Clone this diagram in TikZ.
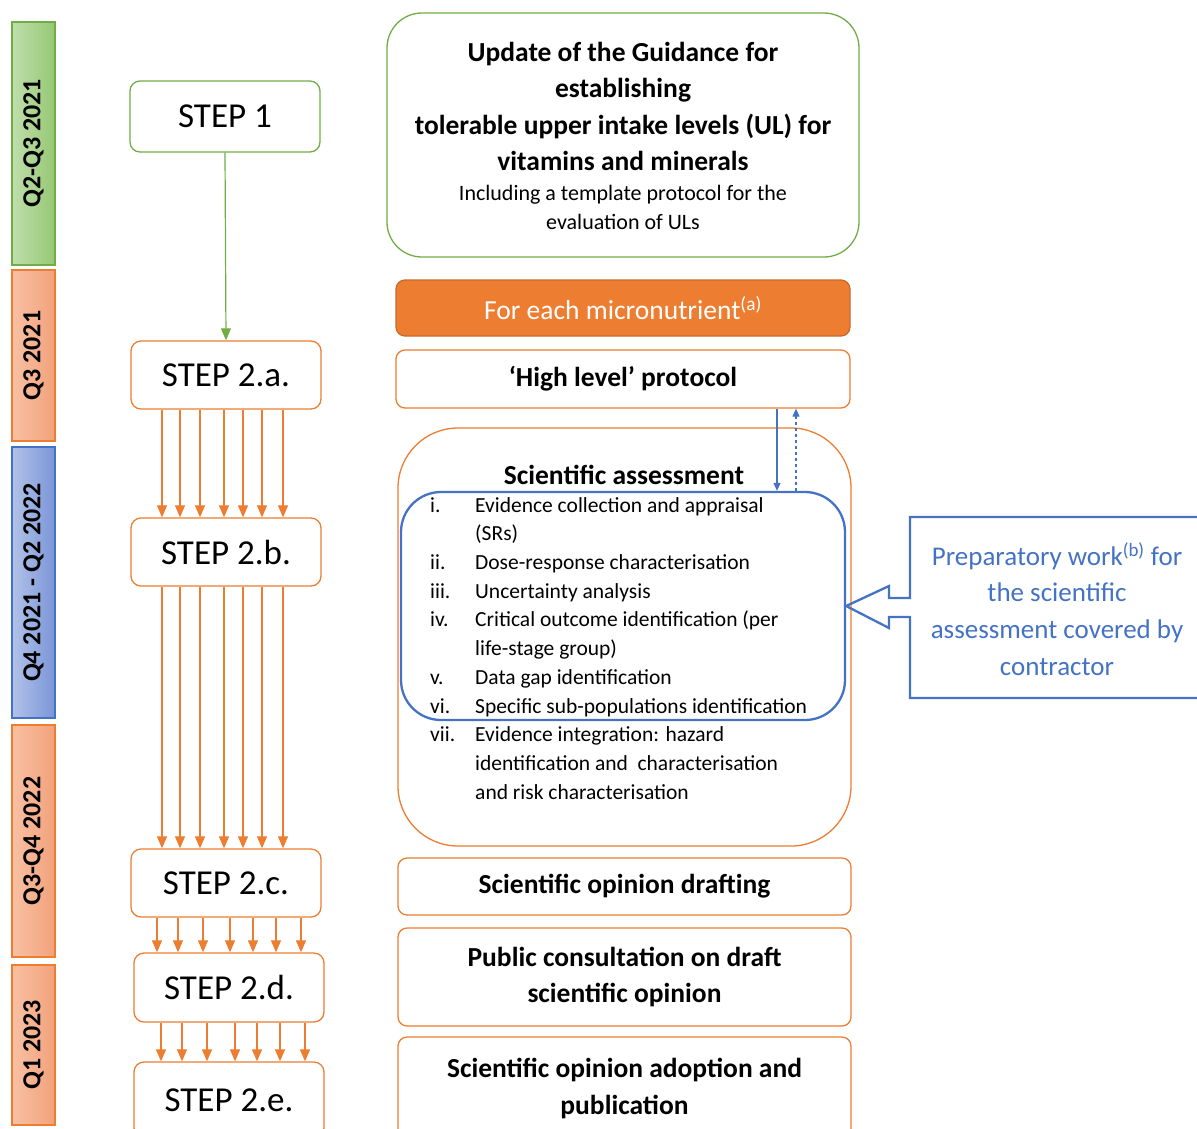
\documentclass[tikz,border=0pt]{standalone}
\usepackage{fontspec}
\usepackage{graphicx}
\setmainfont{Carlito}
\usetikzlibrary{arrows.meta}
\definecolor{eGreen}{HTML}{70AD47}
\definecolor{eOrange}{HTML}{ED7D31}
\definecolor{eBlue}{HTML}{4472C4}
\definecolor{eOrangeDark}{RGB}{200,105,45}
\newcommand{\litem}[1]{\makebox[45pt][l]{#1}}
\newcommand{\lgap}{\hspace*{45pt}}

\begin{document}
\begin{tikzpicture}[
    x=1pt, y=-1pt,
    every node/.style={align=center, inner sep=0pt},
    bar/.style={draw, line width=1.2pt, minimum width=43pt, font=\fontsize{26}{30}\selectfont\bfseries}, % quarter bars on the left
    greenbar/.style={bar, draw=eGreen, left color={rgb,255:red,192;green,222;blue,172}, right color={rgb,255:red,150;green,200;blue,116}},
    orangebar/.style={bar, draw=eOrange, left color={rgb,255:red,248;green,192;blue,164}, right color={rgb,255:red,242;green,162;blue,122}},
    bluebar/.style={bar, draw=eBlue, left color={rgb,255:red,178;green,194;blue,232}, right color={rgb,255:red,122;green,150;blue,216}},
    stepbox/.style={draw=eOrange, rounded corners=10pt, line width=1.3pt, minimum width=190pt, minimum height=68pt, font=\fontsize{35}{40}\selectfont}, % steps
    taskbox/.style={draw=eOrange, rounded corners=9pt, line width=1.3pt, minimum width=453pt, font=\fontsize{27.5}{36.5}\selectfont\bfseries}, % boxes on the right
    oarrow/.style={draw=eOrange, line width=1.2pt, -{Triangle[width=10pt,length=12pt]}},
    barrow/.style={draw=eBlue, line width=1.1pt, -{Triangle[width=7pt,length=8pt]}}
]
\useasboundingbox (0,0) rectangle (1197,1128);

% quarters
\node[greenbar, minimum height=243pt] (q1) at (33.5,143.5) {\rotatebox{90}{Q2-Q3 2021}};
\node[orangebar, minimum height=171pt] (q2) at (33.5,355.5) {\rotatebox{90}{Q3 2021}};
\node[bluebar, minimum height=271pt] (q3) at (33.5,582.5) {\rotatebox{90}{Q4 2021 - Q2 2022}};
\node[orangebar, minimum height=232pt] (q4) at (33.5,841) {\rotatebox{90}{Q3-Q4 2022}};
\node[orangebar, minimum height=160pt] (q5) at (33.5,1045) {\rotatebox{90}{Q1 2023}};

% steps
\node[stepbox, draw=eGreen, minimum height=71pt] (s1) at (225,116.5) {STEP 1};
\node[stepbox] (s2a) at (226,375) {STEP 2.a.};
\node[stepbox] (s2b) at (226,552) {STEP 2.b.};
\node[stepbox] (s2c) at (226,883) {STEP 2.c.};
\node[stepbox, minimum height=69pt] (s2d) at (229,987.5) {STEP 2.d.};
\node[stepbox, minimum height=76pt] (s2e) at (229,1100) {STEP 2.e.};

\draw[oarrow, draw=eGreen] (s1.south) -- (s2a.north);
\foreach \dx in {-64,-46,-26,-2,17,36,57}{
    \draw[oarrow] ([xshift=\dx pt]s2a.south) -- ([xshift=\dx pt]s2b.north);
    \draw[oarrow] ([xshift=\dx pt]s2b.south) -- ([xshift=\dx pt]s2c.north);
}
\foreach \dx in {-69,-48,-23,4,27,50,75}
    \draw[oarrow] ([xshift=\dx pt]s2c.south) -- ([xshift=\dx pt]s2c.south |- s2d.north);
\foreach \dx in {-68,-47,-22,6,28,51,76}
    \draw[oarrow] ([xshift=\dx pt]s2d.south) -- ([xshift=\dx pt]s2d.south |- s2e.north);

% right column
\node[draw=eGreen, rounded corners=35pt, line width=1.3pt, minimum width=472pt, minimum height=244pt] (guide) at (623,135) {};
\node[font=\fontsize{27.5}{36.5}\selectfont\bfseries] (guideT) at (623,106.5) {Update of the Guidance for\\establishing\\tolerable upper intake levels (UL) for\\vitamins and minerals};
\node[font=\fontsize{22}{29}\selectfont] (guideS) at (623,207.5) {Including a template protocol for the\\evaluation of ULs};

\node[taskbox, fill=eOrange, draw=eOrangeDark, minimum width=454pt, minimum height=56pt, text=white, font=\fontsize{27.5}{36.5}\selectfont] (each) at (623,308) {For each micronutrient\textsuperscript{(a)}};
\node[taskbox, minimum width=454pt, minimum height=58pt] (hlp) at (623,379) {`High level' protocol};

\node[taskbox, rounded corners=60pt, minimum height=418pt] (sci) at (624.5,637) {};
\node[font=\fontsize{27.5}{36.5}\selectfont\bfseries] (sciT) at (624,475) {Scientific assessment};
\node[draw=eBlue, line width=2.3pt, rounded corners=40pt, minimum width=444pt, minimum height=228pt] (tasks) at (623,606) {};
\node[anchor=north west, align=left, font=\fontsize{21.5}{28.7}\selectfont] (steps) at (430,497) {%
\litem{i.}Evidence collection and appraisal\\
\lgap(SRs)\\
\litem{ii.}Dose-response characterisation\\
\litem{iii.}Uncertainty analysis\\
\litem{iv.}Critical outcome identification (per\\
\lgap life-stage group)\\
\litem{v.}Data gap identification\\
\litem{vi.}Specific sub-populations identification\\
\litem{vii.}Evidence integration: hazard\\
\lgap identification and\ \ characterisation\\
\lgap and risk characterisation};

\draw[barrow] ([xshift=154pt]hlp.south) -- ([xshift=154pt]hlp.south |- tasks.north);
\draw[barrow, dashed] ([xshift=173pt]hlp.south |- tasks.north) -- ([xshift=173pt]hlp.south);

\node[taskbox, minimum height=57pt] (draft) at (624.5,886.5) {Scientific opinion drafting};
\node[taskbox, minimum height=98pt] (consult) at (624.5,977) {Public consultation on draft\\scientific opinion};
\node[taskbox, minimum height=103pt] (adopt) at (624.5,1088.5) {Scientific opinion adoption and\\publication};

% contractor call-out
\node[text=eBlue, font=\fontsize{27}{36.7}\selectfont] (prepT) at (1057,609) {Preparatory work\textsuperscript{(b)} for\\the scientific\\assessment covered by\\contractor};
\draw[draw=eBlue, line width=2.3pt, line join=miter] (1205,517) -- (910,517) -- (910,598) -- (889,598) -- (889,586) -- (tasks.east) -- (889,628) -- (889,617) -- (910,617) -- (910,698) -- (1205,698);
\end{tikzpicture}
\end{document}
